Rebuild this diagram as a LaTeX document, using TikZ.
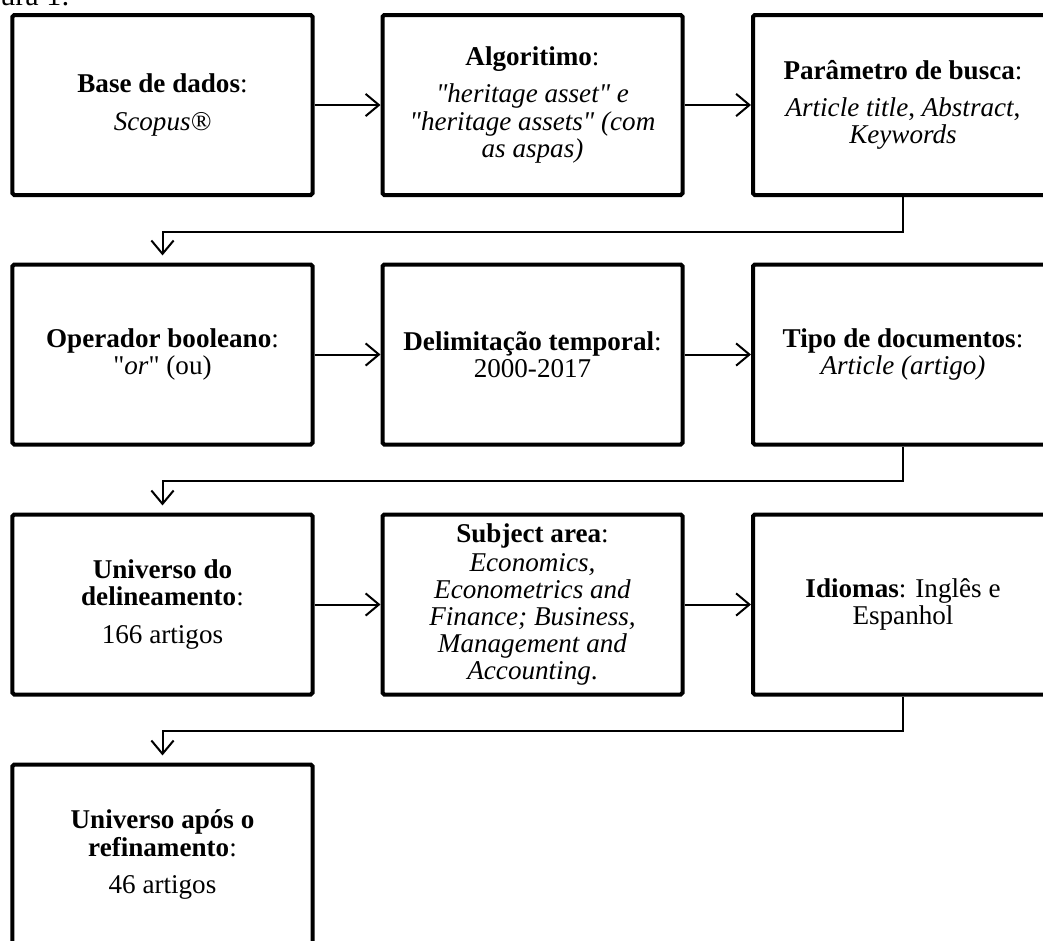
\documentclass[tikz,border=0pt]{standalone}
\usepackage{fontspec}
\setmainfont{Liberation Serif}[Ligatures=TeXOff]
\usetikzlibrary{arrows.meta}
\begin{document}
\begin{tikzpicture}[x=0.45pt,y=-0.45pt,
  stepbox/.style={draw, line width=1.8pt, rounded corners=0.8pt,
    minimum width=135pt, minimum height=81pt, inner sep=0pt,
    align=center, font=\fontsize{12.2}{12.2}\selectfont},
  arr/.style={line width=0.9pt, -{Straight Barb[length=6pt,width=10pt]}},
  conn/.style={arr, rounded corners=0pt, shorten >=3.2pt}]
\useasboundingbox (0,0) rectangle (1043,940);
\node[anchor=base west, font=\fontsize{13.5}{13.5}\selectfont, inner sep=0pt] (cap) at (0,5) {\llap{Fig}ura 1:};
% row 1
\node[stepbox] (b1) at (162.5,105) {\textbf{Base de dados}:\\[4.5pt] \textit{Scopus®}};
\node[stepbox] (b2) at (532.5,105) {\textbf{Algoritimo}:\\[4.5pt] \textit{"heritage asset" e}\\ \textit{"heritage assets" (com}\\ \textit{as aspas)}};
\node[stepbox] (b3) at (903,105) {\textbf{Parâmetro de busca}:\\[4.5pt] \textit{Article title}, \textit{Abstract},\\ \textit{Keywords}};
% row 2
\node[stepbox] (b4) at (162.5,354.5) {\textbf{Operador booleano}:\\ "\textit{or}" (ou)};
\node[stepbox] (b5) at (532.5,354.5) {\textbf{Delimitação temporal}:\\ 2000-2017};
\node[stepbox] (b6) at (903,354.5) {\textbf{Tipo de documentos}:\\ \textit{Article (artigo)}};
% row 3
\node[stepbox] (b7) at (162.5,604.5) {\textbf{Universo do}\\ \textbf{delineamento}:\\[4.5pt] 166 artigos};
\node[stepbox] (b8) at (532.5,604.5) {\textbf{Subject area}:\\[1pt] \textit{Economics,}\\ \textit{Econometrics and}\\ \textit{Finance; Business,}\\ \textit{Management and}\\ \textit{Accounting}.};
\node[stepbox] (b9) at (903,604.5) {\textbf{Idiomas}: Inglês e\\ Espanhol};
% row 4
\node[stepbox] (b10) at (162.5,854.5) {\textbf{Universo após o}\\ \textbf{refinamento}:\\[4.5pt] 46 artigos};
% connectors
\draw[arr] (b1) -- (b2);
\draw[arr] (b2) -- (b3);
\draw[arr] (b4) -- (b5);
\draw[arr] (b5) -- (b6);
\draw[arr] (b7) -- (b8);
\draw[arr] (b8) -- (b9);
\draw[conn] (b3.south) -- ++(0,35) -| (b4.north);
\draw[conn] (b6.south) -- ++(0,34) -| (b7.north);
\draw[conn] (b9.south) -- ++(0,34) -| (b10.north);
\end{tikzpicture}
\end{document}
